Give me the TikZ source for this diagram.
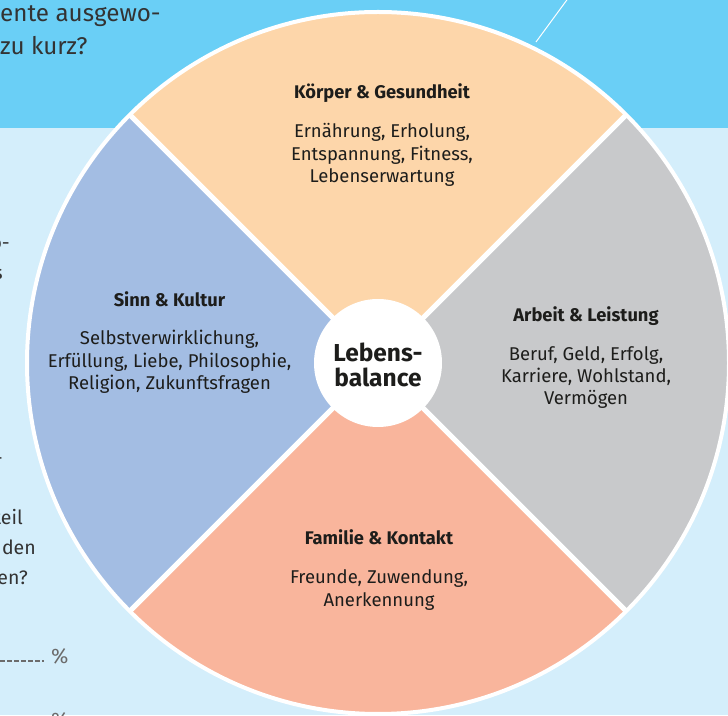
\documentclass[tikz,border=0pt]{standalone}
\usepackage{fontspec}
\setmainfont{Fira Sans}
\definecolor{lightbg}{HTML}{D4EEFB}
\definecolor{band}{HTML}{6ACFF6}
\definecolor{peach}{HTML}{FDD6AA}
\definecolor{greyq}{HTML}{C8C9CB}
\definecolor{salmon}{HTML}{F9B59C}
\definecolor{periw}{HTML}{A3BDE3}
\definecolor{txt}{HTML}{1D1D1B}
\definecolor{qtxt}{HTML}{333333}
\definecolor{pct}{HTML}{6B6B6B}
\tikzset{
  ttl/.style={font=\fontsize{18.3}{21}\selectfont\bfseries, text=txt, inner sep=0pt, anchor=base},
  bod/.style={font=\fontsize{18.5}{21}\selectfont, text=txt, inner sep=0pt, anchor=base},
  ctr/.style={font=\fontsize{24.5}{28}\selectfont\bfseries, text=txt, inner sep=0pt, anchor=base},
  qbig/.style={font=\fontsize{24.2}{27}\selectfont, text=qtxt, inner sep=0pt, anchor=base west},
  qsm/.style={font=\fontsize{19.5}{22}\selectfont, text=qtxt, inner sep=0pt, anchor=base east},
  pcts/.style={font=\fontsize{21}{24}\selectfont, text=pct, inner sep=0pt, anchor=base west},
  sep/.style={white, line width=5pt},
}
\begin{document}
\begin{tikzpicture}[x=1pt,y=1pt]
\useasboundingbox (0,0) rectangle (728,715);
\fill[lightbg] (0,0) rectangle (728,715);
\fill[band] (0,587) rectangle (728,715);
\coordinate (c) at (378,352);
% thin white line in the band
\coordinate (tl1) at (536,673);
\coordinate (tl2) at (572,722);
\draw[white, line width=1pt] (tl1) -- (tl2);
% quadrants
\fill[peach]  (c) -- ++(45:351) arc[start angle=45, end angle=135, radius=351] -- cycle;
\fill[periw]  (c) -- ++(135:351) arc[start angle=135, end angle=225, radius=351] -- cycle;
\fill[salmon] (c) -- ++(225:351) arc[start angle=225, end angle=315, radius=351] -- cycle;
\fill[greyq]  (c) -- ++(-45:351) arc[start angle=-45, end angle=45, radius=351] -- cycle;
\draw[white, line width=4pt] (c) circle[radius=351];
\foreach \a in {45,135,225,315} \draw[sep] (c) -- ++(\a:352);
\fill[white] (c) circle[radius=64];
% centre text
\node[ctr] (cen1) at (378,353) {Lebens-};
\node[ctr] (cen2) at (378,328) {balance};
% top quadrant
\node[ttl] (t0) at (382,616) {Körper \& Gesundheit};
\node[bod] (t1) at (382,577) {Ernährung, Erholung,};
\node[bod] (t2) at (382,554.5) {Entspannung, Fitness,};
\node[bod] (t3) at (382,532) {Lebenserwartung};
% left quadrant
\node[ttl] (l0) at (169.5,408) {Sinn \& Kultur};
\node[bod] (l1) at (169.5,370) {Selbstverwirklichung,};
\node[bod] (l2) at (169.5,347.5) {Erfüllung, Liebe, Philosophie,};
\node[bod] (l3) at (169.5,325) {Religion, Zukunftsfragen};
% right quadrant
\node[ttl] (r0) at (586,393) {Arbeit \& Leistung};
\node[bod] (r1) at (586,354) {Beruf, Geld, Erfolg,};
\node[bod] (r2) at (586,332) {Karriere, Wohlstand,};
\node[bod] (r3) at (586,310) {Vermögen};
% bottom quadrant
\node[ttl] (b0) at (379,170) {Familie \& Kontakt};
\node[bod] (b1) at (379,131) {Freunde, Zuwendung,};
\node[bod] (b2) at (379,108) {Anerkennung};
% cropped question text
\node[qbig] (q1) at (0,693) {ente ausgewo-};
\node[qbig] (q2) at (0,660) {zu kurz?};
\node[qsm] (s1) at (10,465) {o-};
\node[qsm] (s2) at (3,435) {s};
\node[qsm] (s3) at (3,250) {-};
\node[qsm] (s4) at (23,190) {teil};
\node[qsm] (s5) at (36,160) {den};
\node[qsm] (s6) at (28,130) {en?};
\coordinate (d1) at (0,54);
\coordinate (d2) at (44,54);
\draw[pct, line width=1.2pt, dash pattern=on 4.5pt off 2.5pt] (d1) -- (d2);
\node[pcts] (p1) at (51,52) {\%};
\node[pcts] (p2) at (51,-12) {\%};
\end{tikzpicture}
\end{document}
